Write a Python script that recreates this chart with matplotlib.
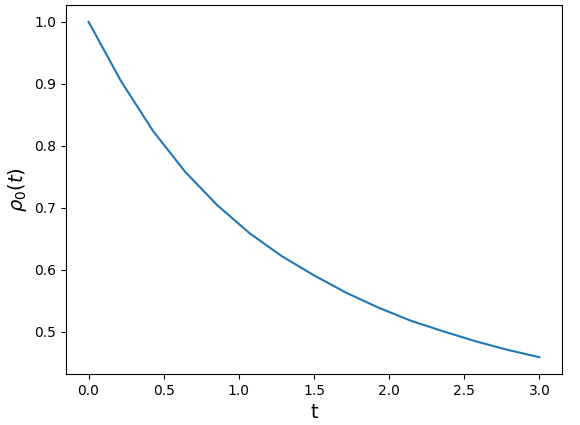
import numpy as np
import matplotlib
matplotlib.use("Agg")
import matplotlib.pyplot as plt

# values (15 samples on [0, 3])
t = np.linspace(0, 3, 15)
rho0 = [1.000, 0.905, 0.824, 0.758, 0.704, 0.659, 0.622, 0.591,
        0.563, 0.539, 0.518, 0.501, 0.485, 0.471, 0.459]

fig = plt.figure(figsize=(5.8, 4.25), dpi=100)
ax = fig.add_axes([66/580, 1 - 374/425, (562 - 66)/580, (374 - 5)/425])
ax.plot(t, rho0)
ax.set_xlabel("t", fontsize=14)
ax.set_ylabel(r"$\rho_0(t)$", fontsize=14)

fig.savefig("out.png", dpi=100)
